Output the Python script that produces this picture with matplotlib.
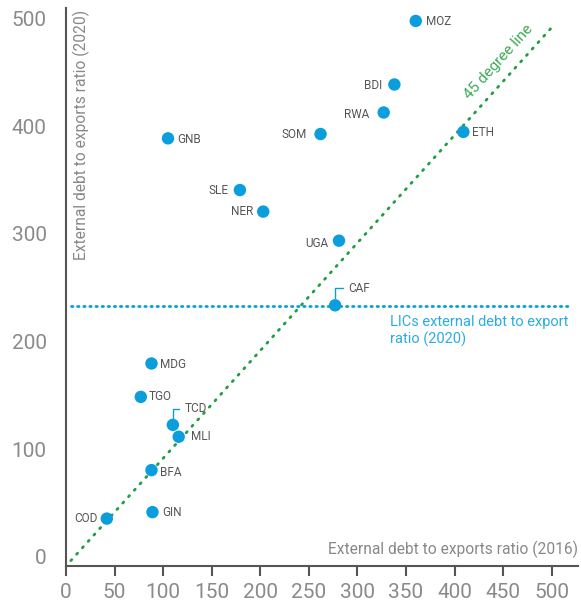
import matplotlib.pyplot as plt
from matplotlib.transforms import ScaledTranslation

plt.rcParams['font.family'] = ['Roboto', 'DejaVu Sans']

# external debt to exports ratio, 2016 vs 2020
countries = ['MOZ', 'BDI', 'RWA', 'SOM', 'ETH', 'GNB', 'SLE', 'NER', 'UGA', 'CAF',
             'MDG', 'TGO', 'TCD', 'MLI', 'BFA', 'GIN', 'COD']
ratio_2016 = [360, 338, 327, 262, 409, 105, 179, 203, 281, 277,
              88, 77, 110, 116, 88, 89, 42]
ratio_2020 = [506, 447, 421, 401, 403, 397, 349, 329, 302, 242,
              188, 157, 131, 120, 89, 50, 44]
lic_ratio_2020 = 241
x_ticks = [0, 50, 100, 150, 200, 250, 300, 350, 400, 450, 500]
y_ticks = [0, 100, 200, 300, 400, 500]

blue = '#0a9fdc'
green = '#1f9e45'
grey = '#555555'

# label placement (pixel offsets from the dot), leader lines for CAF / TCD
label_pos = {
    'MOZ': (10, -1), 'BDI': (-12, -1), 'RWA': (-14, -2), 'SOM': (-14, 0),
    'ETH': (9, -1), 'GNB': (9, -1), 'SLE': (-11, 0), 'NER': (-10, 0),
    'UGA': (-11, -3), 'CAF': (13, 17), 'MDG': (9, -1), 'TGO': (8, 0),
    'TCD': (12, 16), 'MLI': (12, 0), 'BFA': (9, -2), 'GIN': (10, 0),
    'COD': (-9, 0),
}
leader = ['CAF', 'TCD']

fig = plt.figure(figsize=(5.81, 6.07), dpi=100)
ax = fig.add_axes([66 / 581, 1 - 566 / 607, 512 / 581, 558 / 607])

ax.plot([5, 500], [5, 500], color=green, lw=2, ls=(0, (0.5, 2.6)),
        dash_capstyle='round', zorder=1)
ax.plot([5, 520], [lic_ratio_2020, lic_ratio_2020], color=blue, lw=2,
        ls=(0, (0.5, 1.7)), dash_capstyle='round', zorder=1)

ax.scatter(ratio_2016, ratio_2020, s=80, color=blue, edgecolors='none', zorder=3)

for c, x, y in zip(countries, ratio_2016, ratio_2020):
    dx, dy = label_pos[c]
    ha = 'left' if dx > 0 else 'right'
    if c in leader:
        ax.annotate(c, (x, y), xytext=(dx, dy), textcoords='offset pixels',
                    ha='left', va='center', fontsize=8.5, color=grey,
                    arrowprops=dict(arrowstyle='-', color=blue, lw=1,
                                    shrinkA=2, shrinkB=5, relpos=(0, 0.5),
                                    connectionstyle='angle,angleA=0,angleB=90,rad=0'))
    else:
        ax.annotate(c, (x, y), xytext=(dx, dy), textcoords='offset pixels',
                    ha=ha, va='center', fontsize=8.5, color=grey)

ax.text(445, 468, '45 degree line', rotation=48, rotation_mode='anchor',
        ha='center', va='center', color='#3aaa55', fontsize=11)
ax.text(333, 233, 'LICs external debt to export\nratio (2020)', ha='left', va='top',
        color='#2aace2', fontsize=10.5, linespacing=1.2)

ax.text(0.03, 0.997, 'External debt to exports ratio (2020)', transform=ax.transAxes,
        rotation=90, ha='center', va='top', color='#888888', fontsize=11.2)
ax.text(1.0, 0.03, 'External debt to exports ratio (2016)', transform=ax.transAxes,
        ha='right', va='center', color='#888888', fontsize=11.2)

ax.set_xlim(0, 527)
ax.set_ylim(0, 518)
ax.set_xticks(x_ticks)
ax.set_yticks(y_ticks)
ax.tick_params(axis='x', length=7, width=1.5, color=grey, labelsize=15,
               labelcolor='#8a8a8a', pad=5)
ax.tick_params(axis='y', length=0, labelsize=15, labelcolor='#8a8a8a', pad=14)
for lab in ax.get_yticklabels():
    lab.set_transform(lab.get_transform() + ScaledTranslation(0, 9 / 100, fig.dpi_scale_trans))

for s in ['top', 'right']:
    ax.spines[s].set_visible(False)
for s in ['left', 'bottom']:
    ax.spines[s].set_color(grey)
    ax.spines[s].set_linewidth(1.5)

fig.savefig('out.png', dpi=100)
